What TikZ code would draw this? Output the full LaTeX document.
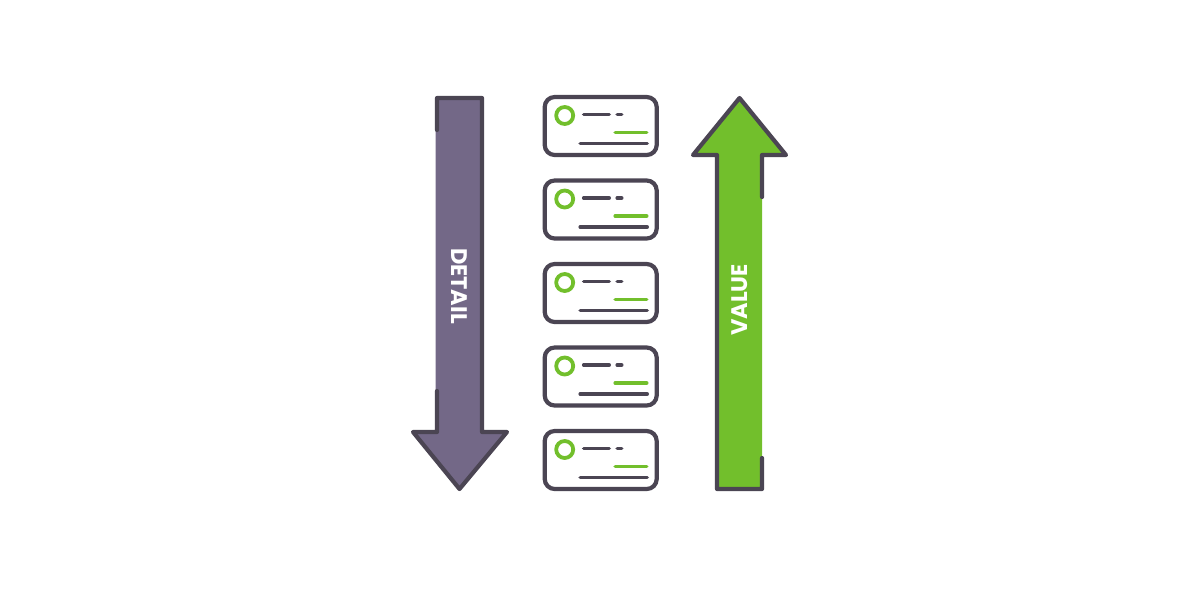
\documentclass[tikz,border=0pt]{standalone}
\usepackage{fontspec}
\setmainfont{Poppins}
\usetikzlibrary{positioning,calc}
\definecolor{ink}{HTML}{4B4553}
\definecolor{plum}{HTML}{736887}
\definecolor{lime}{HTML}{72BF2C}

\begin{document}
\begin{tikzpicture}[
  x=1pt, y=-1pt,
  outline/.style={draw=ink,line width=4.2pt,line cap=round,line join=round},
  card/.style={draw=ink,fill=white,line width=4.2pt,rounded corners=10pt,
               minimum width=112pt,minimum height=58pt,inner sep=0pt},
  dot/.style={circle,draw=lime,line width=3.8pt,minimum size=17pt,inner sep=0pt},
  bar/.style={draw=ink,line width=3.6pt,line cap=round},
  gbar/.style={draw=lime,line width=3.6pt,line cap=round},
  lbl/.style={text=white,font=\bfseries\fontsize{22.5}{22.5}\selectfont,inner sep=0pt},
]
\useasboundingbox (0,0) rectangle (1201,600);

% ===== DETAIL arrow (down) =====
\fill[plum] (435.5,98) -- (482,98) -- (482,432) -- (507,432) -- (459.5,489)
  -- (413,432) -- (435.5,432) -- cycle;
\draw[outline] (437,130) -- (437,98) -- (482,98) -- (482,432) -- (507,432)
  -- (459.5,489) -- (413,432) -- (437,432) -- (437,391);
\node[lbl,rotate=-90] (detail) at (459.5,286) {DETAIL};

% ===== cards =====
\foreach \i in {1,...,5}{
  \node[card] (card\i) at (600.7,{126+83.5*(\i-1)}) {};
  \node[dot] (dot\i) at ([shift={(-36,-10.5)}]card\i.center) {};
  \draw[bar] ([shift={(-17,-11.5)}]card\i.center) -- ++(25.5,0);
  \draw[bar] ([shift={(16.5,-11.5)}]card\i.center) -- ++(4.5,0);
  \draw[gbar] ([shift={(14.5,6.5)}]card\i.center) -- ++(31.5,0);
  \draw[bar] ([shift={(-20.5,17.5)}]card\i.center) -- ++(67,0);
}

% ===== VALUE arrow (up) =====
\fill[lime] (739.5,98) -- (786,155) -- (762,155) -- (762,489) -- (717,489)
  -- (717,155) -- (693,155) -- cycle;
\draw[outline] (762,197) -- (762,155) -- (786,155) -- (739.5,98) -- (693,155)
  -- (717,155) -- (717,489) -- (762,489) -- (762,458);
\node[lbl,rotate=90] (value) at (739.5,300) {VALUE};
\end{tikzpicture}
\end{document}
